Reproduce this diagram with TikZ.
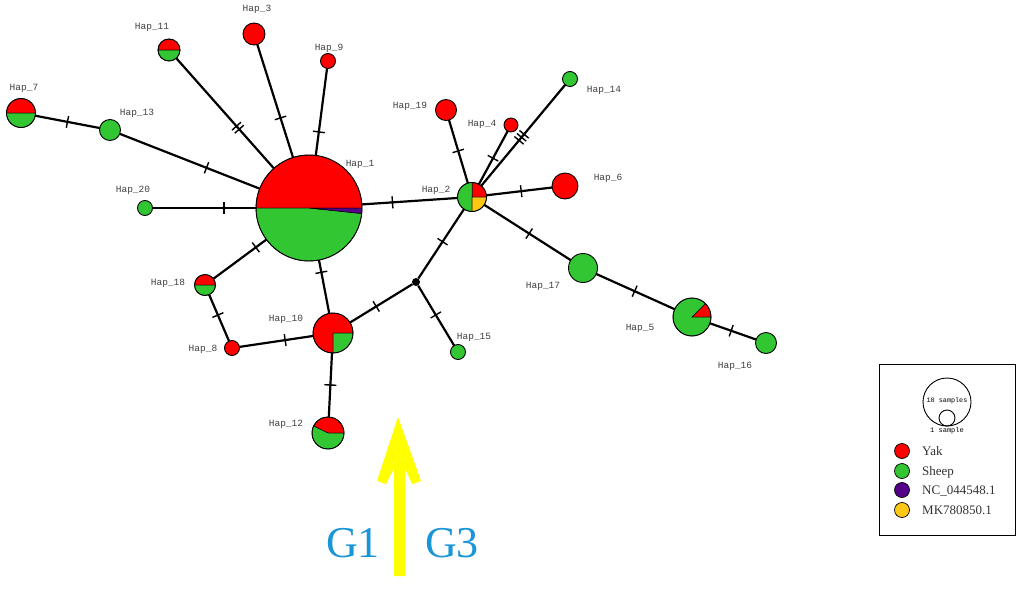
\documentclass[tikz,border=0pt]{standalone}
\usepackage{fontspec}
\setmainfont{Liberation Serif}
\newfontfamily\labfont{Liberation Mono}
\usetikzlibrary{decorations.markings}
\definecolor{hapred}{HTML}{FF0000}
\definecolor{hapgreen}{HTML}{33C633}
\definecolor{happurple}{HTML}{550088}
\definecolor{hapyellow}{HTML}{FFC814}
\definecolor{arrowyellow}{HTML}{FFFF00}
\definecolor{gblue}{HTML}{1996D7}
\tikzset{
  hap/.style={circle, draw=black, line width=0.9pt, inner sep=0pt, outer sep=0pt},
  link/.style={draw=black, line width=2.2pt},
  mut/.style={postaction={decorate, decoration={markings, mark=at position #1 with {\draw[line width=1.4pt] (0pt,-6pt) -- (0pt,6pt);}}}},
  haplab/.style={font=\labfont\fontsize{9.5}{10}\selectfont, text=black!75, anchor=base, inner sep=0pt},
  legtxt/.style={font=\fontsize{13}{14}\selectfont, text=black!80, anchor=base west, inner sep=0pt},
  legdot/.style={circle, draw=black, line width=0.7pt, inner sep=0pt, minimum size=15pt},
  gtxt/.style={font=\fontsize{44}{46}\selectfont, text=gblue, inner sep=0pt}
}
\newcommand\hapmono[5]{\node[hap, fill=#5, minimum size=2*#4pt] (#1) at (#2,-#3) {};}
\newcommand\happie[5]{%
  \foreach \sa/\sb/\sc in {#5}{\filldraw[fill=\sc, draw=black, line width=0.5pt] (#2,-#3) -- ++(\sa:#4pt) arc[start angle=\sa, end angle=\sb, radius=#4pt] -- cycle;}
  \node[hap, minimum size=2*#4pt] (#1) at (#2,-#3) {};}
\begin{document}
\begin{tikzpicture}[x=1pt,y=1pt]
\fill[white] (0,0) rectangle (1021,-589);
\useasboundingbox (0,0) rectangle (1021,-589);

% haplotype nodes
\happie{h1}{309}{208}{53}{0/180/hapred, 180/354/hapgreen, 354/360/happurple}
\happie{h2}{472}{197}{14.5}{0/90/hapred, 90/270/hapgreen, 270/360/hapyellow}
\hapmono{h3}{254}{34}{11}{hapred}
\hapmono{h4}{511}{125}{7}{hapred}
\happie{h5}{692}{317}{19}{0/45/hapred, 45/360/hapgreen}
\hapmono{h6}{565}{186}{13}{hapred}
\happie{h7}{21}{113}{14.5}{0/180/hapred, 180/360/hapgreen}
\hapmono{h8}{232}{348}{7.5}{hapred}
\hapmono{h9}{328}{61}{7.5}{hapred}
\happie{h10}{333}{333}{20}{0/270/hapred, 270/360/hapgreen}
\happie{h11}{169}{50}{11}{0/180/hapred, 180/360/hapgreen}
\happie{h12}{328}{433}{16}{0/154/hapred, 154/360/hapgreen}
\hapmono{h13}{110}{130}{10.5}{hapgreen}
\hapmono{h14}{570}{79}{7.5}{hapgreen}
\hapmono{h15}{458}{352}{7.5}{hapgreen}
\hapmono{h16}{766}{343}{10.5}{hapgreen}
\hapmono{h17}{583}{268}{14.5}{hapgreen}
\happie{h18}{205}{285}{10.5}{0/180/hapred, 180/360/hapgreen}
\hapmono{h19}{446}{110}{10.5}{hapred}
\hapmono{h20}{145}{208}{7.5}{hapgreen}
\node[circle, fill=black, inner sep=0pt, minimum size=8pt] (mv) at (416,-282) {};

% connectors with mutation marks
\draw[link, mut=0.50] (h7) -- (h13);
\draw[link, mut=0.62] (h13) -- (h1);
\draw[link, mut=0.617, mut=0.645] (h11) -- (h1);
\draw[link, mut=0.65] (h3) -- (h1);
\draw[link, mut=0.73] (h9) -- (h1);
\draw[link, mut=0.69] (h20) -- (h1);
\draw[link, mut=0.32] (h1) -- (h2);
\draw[link, mut=0.49] (h19) -- (h2);
\draw[link, mut=0.51] (h4) -- (h2);
\draw[link, mut=0.49, mut=0.52, mut=0.55] (h14) -- (h2);
\draw[link, mut=0.53] (h2) -- (h6);
\draw[link, mut=0.52] (h2) -- (h17);
\draw[link, mut=0.47] (h2) -- (mv);
\draw[link, mut=0.49] (h17) -- (h5);
\draw[link, mut=0.46] (h5) -- (h16);
\draw[link, mut=0.20] (h1) -- (h18);
\draw[link, mut=0.23] (h1) -- (h10);
\draw[link, mut=0.44] (h18) -- (h8);
\draw[link, mut=0.62] (h8) -- (h10);
\draw[link, mut=0.42] (h10) -- (mv);
\draw[link, mut=0.49] (mv) -- (h15);
\draw[link, mut=0.50] (h10) -- (h12);

% labels
\node[haplab] (l1) at (360,-166) {Hap\_1};
\node[haplab] (l2) at (436,-192) {Hap\_2};
\node[haplab] (l3) at (257,-12) {Hap\_3};
\node[haplab] (l4) at (482,-126) {Hap\_4};
\node[haplab] (l5) at (640,-330) {Hap\_5};
\node[haplab] (l6) at (608,-180) {Hap\_6};
\node[haplab] (l7) at (24,-90) {Hap\_7};
\node[haplab] (l8) at (203,-351) {Hap\_8};
\node[haplab] (l9) at (329,-50) {Hap\_9};
\node[haplab] (l10) at (286,-321) {Hap\_10};
\node[haplab] (l11) at (152,-29) {Hap\_11};
\node[haplab] (l12) at (286,-426) {Hap\_12};
\node[haplab] (l13) at (137,-115) {Hap\_13};
\node[haplab] (l14) at (604,-92) {Hap\_14};
\node[haplab] (l15) at (474,-339) {Hap\_15};
\node[haplab] (l16) at (735,-368) {Hap\_16};
\node[haplab] (l17) at (543,-288) {Hap\_17};
\node[haplab] (l18) at (168,-285) {Hap\_18};
\node[haplab] (l19) at (410,-108) {Hap\_19};
\node[haplab] (l20) at (133,-192) {Hap\_20};

% legend
\node[draw=black, line width=0.9pt, minimum width=136pt, minimum height=171pt, inner sep=0pt] (legend) at (947,-449.5) {};
\node[circle, draw=black, line width=0.9pt, minimum size=48pt, inner sep=0pt] (big) at (947,-402) {};
\node[circle, draw=black, line width=0.9pt, minimum size=16pt, inner sep=0pt] (small) at (947,-418) {};
\node[font=\labfont\fontsize{6.8}{8}\selectfont, inner sep=0pt] (tbig) at (947,-401) {10 samples};
\node[font=\labfont\fontsize{7}{8}\selectfont, inner sep=0pt] (tsmall) at (947,-431) {1 sample};
\node[legdot, fill=hapred] (kyak) at (902,-451) {};
\node[legdot, fill=hapgreen] (ksheep) at (902,-471) {};
\node[legdot, fill=happurple] (knc) at (902,-490) {};
\node[legdot, fill=hapyellow] (kmk) at (902,-510) {};
\node[legtxt] (tyak) at (922,-455.5) {Yak};
\node[legtxt] (tsheep) at (922,-475.5) {Sheep};
\node[legtxt] (tnc) at (922,-494.5) {NC\_044548.1};
\node[legtxt] (tmk) at (922,-514.5) {MK780850.1};

% yellow arrow and group labels
\fill[arrowyellow] (394,-576) -- (394,-468) -- (386,-484) -- (377,-481) -- (398,-417) -- (421,-481) -- (412,-484) -- (405,-468) -- (405,-576) -- cycle;
\node[gtxt] (g1) at (353,-543) {G1};
\node[gtxt] (g3) at (452,-543) {G3};
\end{tikzpicture}
\end{document}
